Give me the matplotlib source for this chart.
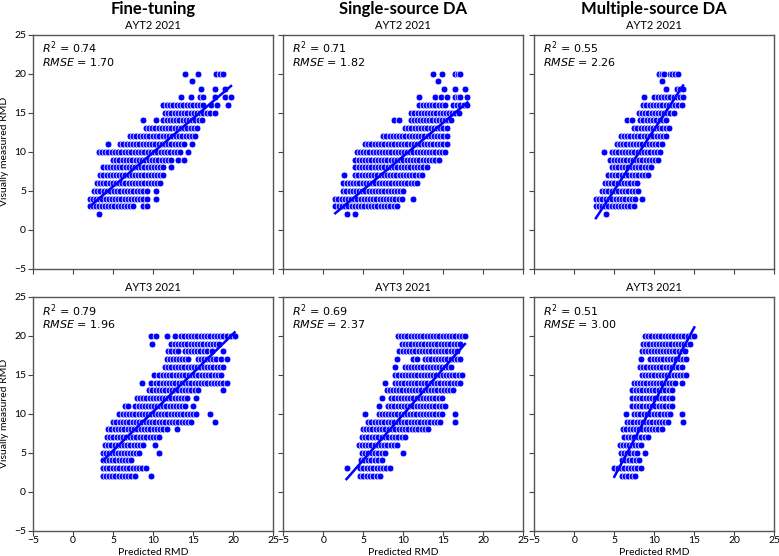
import numpy as np
import matplotlib
matplotlib.use("Agg")
import matplotlib.pyplot as plt
from matplotlib import font_manager

# ---------------- data ----------------
col_titles = ["Fine-tuning", "Single-source DA", "Multiple-source DA"]
row_titles = ["AYT2 2021", "AYT3 2021"]
r2_values = [[0.74, 0.71, 0.55], [0.79, 0.69, 0.51]]
rmse_values = [[1.70, 1.82, 2.26], [1.96, 2.37, 3.00]]
# regression line slope / intercept per panel
slopes = [[0.873, 0.858, 1.557], [1.00, 1.173, 1.92]]
intercepts = [[1.17, 0.85, -2.7], [0.25, -1.8, -7.7]]
axis_ticks = [-5, 0, 5, 10, 15, 20, 25]

# each entry: (visually measured RMD, predicted start, predicted end) of a run of points
ayt2_finetune = [
    (20, 14.0, 14.0), (20, 15.6, 15.6), (20, 17.9, 18.8),
    (19, 14.9, 14.9),
    (18, 16.0, 16.0), (18, 17.75, 17.75), (18, 19.0, 19.0),
    (17, 13.5, 13.5), (17, 14.75, 14.75), (17, 15.9, 16.3), (17, 17.8, 17.8), (17, 19.0, 19.0), (17, 19.75, 19.75),
    (16, 11.3, 16.3), (16, 17.2, 17.2), (16, 18.0, 18.0), (16, 19.4, 19.4),
    (15, 11.5, 17.1), (15, 17.75, 17.75),
    (14, 8.7, 8.7), (14, 10.4, 10.4), (14, 11.3, 16.1),
    (13, 9.1, 15.5),
    (12, 7.1, 15.3),
    (11, 4.4, 4.4), (11, 5.9, 13.9), (11, 14.9, 14.9),
    (10, 3.2, 13.4), (10, 14.4, 14.4),
    (9, 5.0, 12.3), (9, 13.1, 13.1), (9, 13.9, 13.9),
    (8, 3.8, 11.3), (8, 12.2, 12.2),
    (7, 3.4, 11.3),
    (6, 3.0, 10.9),
    (5, 2.6, 9.2), (5, 10.4, 10.4),
    (4, 2.1, 9.2), (4, 10.4, 10.4),
    (3, 2.1, 7.5), (3, 8.7, 9.2),
    (2, 3.3, 3.3),
]
ayt2_single = [
    (20, 13.75, 13.75), (20, 14.8, 14.8), (20, 16.5, 17.1),
    (19, 14.3, 14.3),
    (18, 15.1, 15.1), (18, 16.5, 16.5), (18, 17.7, 17.7),
    (17, 12.0, 12.0), (17, 13.9, 13.9), (17, 14.7, 14.7), (17, 15.4, 15.4), (17, 16.5, 17.1), (17, 18.0, 18.0),
    (16, 12.0, 15.2), (16, 16.25, 18.0),
    (15, 11.0, 16.9),
    (14, 8.8, 8.8), (14, 9.5, 9.5), (14, 10.9, 16.0),
    (13, 10.2, 15.4),
    (12, 7.5, 15.4),
    (11, 5.2, 15.4),
    (10, 4.2, 15.2),
    (9, 4.0, 14.4),
    (8, 4.0, 12.9),
    (7, 2.6, 2.6), (7, 4.0, 12.3),
    (6, 2.5, 11.7),
    (5, 2.5, 10.0),
    (4, 1.5, 9.8), (4, 11.2, 11.2),
    (3, 1.5, 9.2),
    (2, 2.9, 2.9), (2, 4.0, 4.0),
]
ayt2_multi = [
    (20, 10.6, 11.25), (20, 11.9, 13.0),
    (19, 10.9, 10.9),
    (18, 11.4, 11.4), (18, 12.8, 13.6),
    (17, 8.7, 8.7), (17, 10.0, 13.6),
    (16, 8.6, 13.4),
    (15, 8.1, 12.4),
    (14, 6.6, 6.6), (14, 7.2, 7.2), (14, 8.2, 11.5),
    (13, 7.5, 11.8),
    (12, 5.8, 11.5),
    (11, 5.3, 10.9),
    (10, 3.7, 3.7), (10, 4.7, 10.7),
    (9, 4.5, 10.5),
    (8, 4.7, 9.6),
    (7, 4.25, 9.25),
    (6, 3.8, 7.8),
    (5, 3.4, 8.0),
    (4, 2.7, 7.6), (4, 8.5, 8.5),
    (3, 2.7, 7.4),
    (2, 4.0, 4.0),
]
ayt3_finetune = [
    (20, 9.8, 10.4), (20, 11.7, 11.7), (20, 12.7, 12.7), (20, 13.5, 19.2), (20, 19.8, 20.2),
    (19, 9.9, 9.9), (19, 12.3, 18.3),
    (18, 11.9, 13.1), (18, 14.0, 16.7), (18, 17.4, 17.4), (18, 18.75, 18.75),
    (17, 11.7, 14.4), (17, 15.6, 17.9), (17, 18.5, 18.5), (17, 19.2, 19.2),
    (16, 11.5, 18.75),
    (15, 10.1, 10.1), (15, 10.8, 18.5),
    (14, 8.6, 8.6), (14, 9.7, 9.7), (14, 10.4, 19.2),
    (13, 9.5, 15.6), (13, 18.75, 18.75),
    (12, 8.0, 14.25), (12, 15.4, 15.4),
    (11, 6.5, 6.9), (11, 7.8, 14.0), (11, 15.0, 15.0),
    (10, 5.8, 15.4), (10, 17.1, 17.1),
    (9, 5.0, 14.8), (9, 17.7, 17.7),
    (8, 4.4, 11.7), (8, 13.0, 13.0),
    (7, 4.2, 10.8),
    (6, 4.0, 8.75), (6, 10.25, 10.25),
    (5, 3.7, 8.3), (5, 10.7, 10.7),
    (4, 3.7, 7.3),
    (3, 3.7, 9.1),
    (2, 3.7, 7.7), (2, 9.7, 9.7),
]
ayt3_single = [
    (20, 9.3, 17.7),
    (19, 9.8, 17.1),
    (18, 9.5, 16.7),
    (17, 9.2, 9.2), (17, 11.2, 11.7), (17, 12.7, 17.1),
    (16, 8.9, 8.9), (16, 10.2, 16.0),
    (15, 9.0, 17.3),
    (14, 7.7, 7.7), (14, 8.9, 17.1),
    (13, 7.9, 16.25),
    (12, 7.3, 7.3), (12, 8.5, 14.8),
    (11, 6.9, 6.9), (11, 8.1, 15.2),
    (10, 5.2, 5.2), (10, 6.9, 14.8), (10, 16.5, 16.5),
    (9, 5.6, 14.6), (9, 16.5, 16.5),
    (8, 4.9, 13.1),
    (7, 4.8, 10.2),
    (6, 4.4, 9.2),
    (5, 4.8, 7.7), (5, 10.0, 10.0),
    (4, 4.7, 7.3),
    (3, 2.9, 2.9), (3, 4.6, 8.3),
    (2, 4.6, 7.1),
]
ayt3_multi = [
    (20, 8.8, 15.0),
    (19, 8.6, 14.5),
    (18, 8.4, 13.8),
    (17, 8.3, 8.3), (17, 9.5, 14.0),
    (16, 8.2, 13.4),
    (15, 8.4, 14.0),
    (14, 7.4, 12.6), (14, 13.4, 13.4),
    (13, 7.25, 12.2),
    (12, 7.25, 12.2),
    (11, 7.25, 12.2),
    (10, 6.5, 6.5), (10, 7.4, 12.0), (10, 13.4, 13.4),
    (9, 6.6, 11.75), (9, 13.6, 13.6),
    (8, 6.1, 10.9),
    (7, 6.25, 9.2),
    (6, 5.7, 8.3),
    (5, 5.8, 7.8), (5, 8.8, 8.8),
    (4, 5.9, 8.1),
    (3, 5.0, 8.3),
    (2, 5.9, 7.6),
]
panels = [[ayt2_finetune, ayt2_single, ayt2_multi],
          [ayt3_finetune, ayt3_single, ayt3_multi]]

# ---------------- fonts ----------------
avail = {f.name for f in font_manager.fontManager.ttflist}
label_font = "Liberation Sans Narrow" if "Liberation Sans Narrow" in avail else "Lato"

# ---------------- figure ----------------
W, H = 779, 556
fig = plt.figure(figsize=(W / 100, H / 100), dpi=100)

col_px = [(33, 273), (283.3, 523.3), (534.3, 774.3)]
row_px = [(34.5, 269), (297, 530.5)]
DOT_STEP = 0.4

for r in range(2):
    for c in range(3):
        x0p, x1p = col_px[c]
        y0p, y1p = row_px[r]
        ax = fig.add_axes([x0p / W, 1 - y1p / H, (x1p - x0p) / W, (y1p - y0p) / H])
        xs, ys = [], []
        for (yv, a, b) in panels[r][c]:
            n = max(1, int(round((b - a) / DOT_STEP)) + 1)
            pts = np.linspace(a, b, n)
            xs.extend(pts)
            ys.extend([yv] * len(pts))
        ax.scatter(xs, ys, s=24, c="#0000ff", edgecolors="white", linewidths=0.5, zorder=2)
        lx = np.array([min(xs), max(xs)])
        ax.plot(lx, slopes[r][c] * lx + intercepts[r][c], color="#0000ff", lw=1.8, zorder=3)

        ax.set_xlim(-5, 25)
        ax.set_ylim(-5, 25)
        ax.set_xticks(axis_ticks)
        ax.set_yticks(axis_ticks)
        ax.tick_params(direction="out", length=3.5, width=0.8, color="#444444",
                       labelsize=7.5)
        ax.tick_params(axis="x", pad=0.5)
        ax.tick_params(axis="y", pad=1.5)
        for lab in ax.get_xticklabels() + ax.get_yticklabels():
            lab.set_fontfamily(label_font)
        if r == 0:
            ax.tick_params(labelbottom=False)
        else:
            ax.set_xlabel("Predicted RMD", fontsize=7.5, family=label_font, labelpad=0)
            ax.xaxis.set_label_coords(0.5, -0.077)
        if c != 0:
            ax.tick_params(labelleft=False)
        else:
            ax.set_ylabel("Visually measured RMD", fontsize=7.5, family=label_font)
            ax.yaxis.set_label_coords(-0.1, 0.5)
        for s in ax.spines.values():
            s.set_color("#555555")
            s.set_linewidth(1.0)
        ax.set_title(row_titles[r], fontsize=8, family=label_font, pad=4)
        ax.text(0.036, 0.942, r"$R^2$ = %.2f" % r2_values[r][c], transform=ax.transAxes,
                fontsize=8, va="center", ha="left", family="DejaVu Sans")
        ax.text(0.036, 0.883, r"$RMSE$ = %.2f" % rmse_values[r][c], transform=ax.transAxes,
                fontsize=8, va="center", ha="left", family="DejaVu Sans")
        if r == 0:
            fig.text((x0p + x1p) / 2 / W, 1 - 9 / H, col_titles[c], ha="center", va="center",
                     fontsize=12, fontweight="bold", family=label_font)

fig.savefig("out.png", dpi=100)
